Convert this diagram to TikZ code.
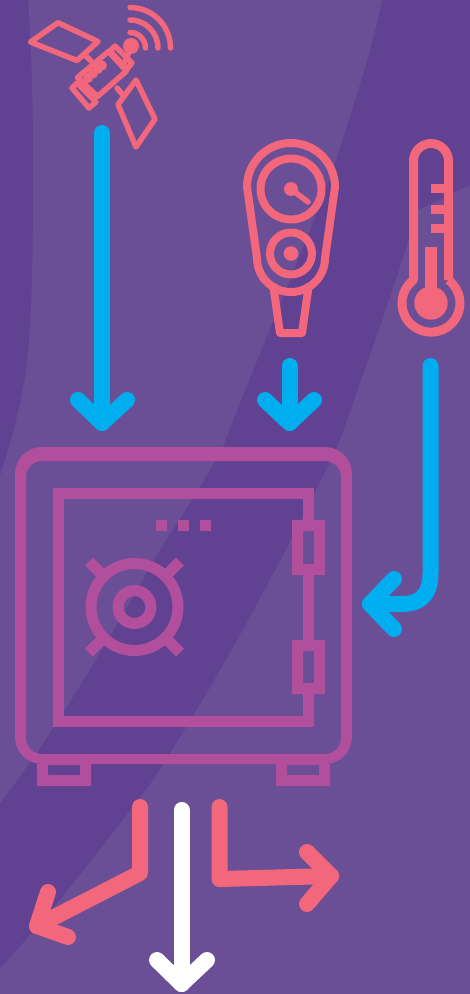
\documentclass[tikz,border=0pt]{standalone}
\definecolor{bglight}{HTML}{6A4E96}
\definecolor{bgdark}{HTML}{614191}
\definecolor{coral}{HTML}{F2677B}
\definecolor{skyb}{HTML}{00AEEF}
\definecolor{safem}{HTML}{B24F9C}
\tikzset{
  bluearrow/.style={draw=skyb,line width=16pt,line cap=round,line join=round},
  coralarrow/.style={draw=coral,line width=16pt,line cap=round,line join=round},
  whitearrow/.style={draw=white,line width=16pt,line cap=round,line join=round},
  sat/.style={draw=coral,line width=5.5pt,line cap=round,line join=round},
  gauge/.style={draw=coral,line width=8pt,line join=round},
  safefill/.style={fill=safem,even odd rule},
}
\begin{document}
\begin{tikzpicture}[x=1pt,y=1pt]
\useasboundingbox (0,0) rectangle (470,-994);
% background
\fill[bglight] (0,0) rectangle (470,-994);
\fill[bgdark] (0,0) -- (28,0) .. controls (32,-60) and (33,-110) .. (33,-170)
  .. controls (33,-260) and (32,-320) .. (26,-370)
  .. controls (20,-410) and (10,-445) .. (0,-475) -- cycle;
\fill[bgdark] (382,0) -- (470,0) -- (470,-185) -- (418,-210)
  .. controls (400,-270) and (370,-355) .. (340,-440)
  .. controls (290,-545) and (230,-660) .. (153,-780)
  .. controls (100,-850) and (50,-915) .. (0,-968)
  -- (0,-803)
  .. controls (40,-753) and (100,-657) .. (150,-567)
  .. controls (175,-525) and (200,-490) .. (223,-447)
  .. controls (260,-350) and (300,-260) .. (333,-170)
  .. controls (350,-115) and (370,-60) .. (382,0) -- cycle;
% satellite
\draw[sat] (30.5,-42) -- (58,-22.7) -- (98,-41.5) -- (77,-60.5) -- cycle;
\draw[sat] (136,-80) -- (155,-119) -- (136,-147) -- (118,-104.5) -- cycle;
\draw[sat] (85,-55) -- (91,-61);
\draw[sat] (117,-88) -- (123,-95);
\draw[sat] (108.5,-51.5) -- (126.5,-71) -- (97.5,-96.5) -- (77.5,-77.5) -- cycle;
\draw[sat] (115,-46) -- (132,-63) -- (127,-69) -- (110,-51) -- cycle;
\draw[sat] (72,-88) -- (77,-83) -- (96,-102) -- (89,-108) -- cycle;
\fill[coral] (88,-78) circle[radius=5] (93,-73.5) circle[radius=5] (98,-69) circle[radius=5] (102,-65.5) circle[radius=5];
\draw[sat] (125,-62) -- (131,-46);
\fill[coral] (131,-46) circle[radius=8];
\draw[sat] (130,-32.5) arc[start angle=90,end angle=0,radius=15.5];
\draw[sat] (130,-20) arc[start angle=90,end angle=0,radius=28];
\draw[sat] (130,-7.5) arc[start angle=90,end angle=0,radius=40.5];
% gauge
\draw[gauge] (273,-284) -- (280,-333) -- (302,-333) -- (309,-284);
\draw[gauge] (247,-187) arc[start angle=180,end angle=0,radius=44] -- (325,-258)
  arc[start angle=0,end angle=-180,radius=34] -- cycle;
\draw[gauge] (291,-189) circle[radius=30.5];
\draw[gauge] (291,-253.5) circle[radius=21];
\fill[coral] (291,-253.5) circle[radius=7.3];
\fill[coral] (291,-189) circle[radius=7];
\draw[draw=coral,line width=5.5pt,line cap=round] (291,-189) -- (308,-202);
% thermometer
\draw[draw=coral,line width=9pt,line join=round] (448.5,-280) -- (448.5,-161)
  arc[start angle=0,end angle=180,radius=17.5] -- (413.5,-280)
  arc[start angle=127,end angle=413,radius=29];
\fill[coral] (431,-303) circle[radius=16.7];
\fill[coral] (425,-247) rectangle (437,-300);
\fill[coral] (431,-184) rectangle (446,-193);
\fill[coral] (431,-205) rectangle (446,-214);
\fill[coral] (431,-224) rectangle (446,-233);
% blue arrows
\draw[bluearrow] (102,-133) -- (102,-423);
\draw[bluearrow] (78,-400) -- (102,-423) -- (127,-400);
\draw[bluearrow] (289.5,-366) -- (289.5,-423);
\draw[bluearrow] (265,-400) -- (289.5,-423) -- (314,-400);
\draw[bluearrow] (430.5,-366) -- (430.5,-573) .. controls (430.5,-595) and (420,-604) .. (402,-604) -- (370,-604);
\draw[bluearrow] (394,-579) -- (370,-604) -- (394,-629);
% safe
\fill[safefill] (15,-474) arc[start angle=180,end angle=90,radius=27] -- (325,-447)
  arc[start angle=90,end angle=0,radius=27] -- (352,-737) arc[start angle=0,end angle=-90,radius=27]
  -- (42,-764) arc[start angle=-90,end angle=-180,radius=27] -- cycle
  (26,-477) -- (26,-738) arc[start angle=180,end angle=270,radius=16] -- (325,-754)
  arc[start angle=270,end angle=360,radius=16] -- (341,-477) arc[start angle=0,end angle=90,radius=16]
  -- (42,-461) arc[start angle=90,end angle=180,radius=16] -- cycle;
\fill[safem] (53,-488) rectangle (314,-499);
\fill[safem] (53,-488) rectangle (64,-727);
\fill[safem] (53,-716) rectangle (314,-727);
\fill[safem] (303,-488) rectangle (314,-520);
\fill[safem] (303,-575) rectangle (314,-640);
\fill[safem] (303,-694) rectangle (314,-727);
\fill[safefill] (292,-520) rectangle (325,-575) (303,-531) rectangle (314,-564);
\fill[safefill] (292,-640) rectangle (325,-694) (303,-651) rectangle (314,-683);
\fill[safem] (156,-520) rectangle (167,-531);
\fill[safem] (178,-520) rectangle (189,-531);
\fill[safem] (200,-520) rectangle (211,-531);
\fill[safefill] (134.5,-607) circle[radius=49] (134.5,-607) circle[radius=38];
\fill[safefill] (134.5,-607) circle[radius=22] (134.5,-607) circle[radius=11];
\draw[safem,line width=11pt] (89,-561.5) -- (103,-575.5);
\draw[safem,line width=11pt] (180,-561.5) -- (166,-575.5);
\draw[safem,line width=11pt] (89,-652.5) -- (103,-638.5);
\draw[safem,line width=11pt] (180,-652.5) -- (166,-638.5);
\fill[safefill] (37,-764) rectangle (91,-786) (48,-765) rectangle (80,-775);
\fill[safefill] (276,-764) rectangle (330,-786) (287,-765) rectangle (319,-775);
% outgoing arrows
\draw[coralarrow] (140,-807) -- (140,-873) -- (37,-926);
\draw[coralarrow] (48,-892) -- (37,-926) -- (68,-937);
\draw[coralarrow] (219.5,-807) -- (219.5,-879) -- (331,-876);
\draw[coralarrow] (307,-852) -- (331,-876) -- (307,-904);
\draw[whitearrow] (181.5,-810) -- (181.5,-984);
\draw[whitearrow] (157,-960) -- (181.5,-984) -- (207,-960);
\end{tikzpicture}
\end{document}
